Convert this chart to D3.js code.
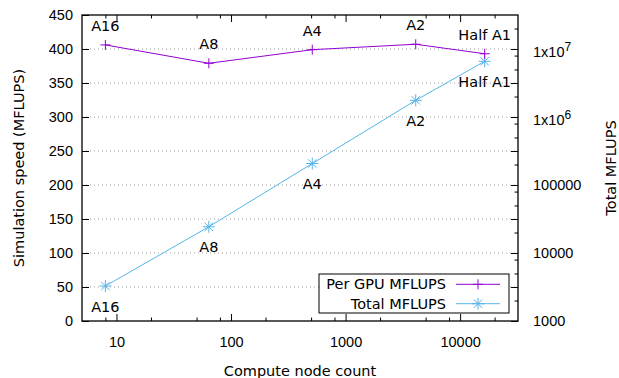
<!DOCTYPE html>
<html>
<head>
<meta charset="utf-8">
<script src="https://cdn.jsdelivr.net/npm/d3@7"></script>
<style>
  body { margin: 0; background: #fff; }
  svg { font-family: "DejaVu Sans", sans-serif; font-size: 14.5px; }
  .tick text { font-size: 14.5px; fill: #000; }
  .tick line { stroke: #000; stroke-width: 1; }
</style>
</head>
<body>
<svg id="chart" width="619" height="378"></svg>
<script>
// node counts and the labels printed next to each point
const nodeCounts = [8, 64, 512, 4096, 16384];
const pointLabels = ["A16", "A8", "A4", "A2", "Half A1"];
// per GPU speed (left axis) and total speed (right log axis)
const perGpuMflups = [406, 379, 399, 407, 393];
const totalMflups = [3270, 24300, 207000, 1760000, 6600000];

const leftTicks = [0, 50, 100, 150, 200, 250, 300, 350, 400, 450];
const rightTicks = [1000, 10000, 100000, 1e6, 1e7];
const xTicks = [10, 100, 1000, 10000];

const svg = d3.select("#chart");
const L = 82, R = 518, T = 15, B = 321;

const x = d3.scaleLog().domain([5, 32000]).range([L, R]);
const y = d3.scaleLinear().domain([0, 450]).range([B, T]);
const y2 = d3.scaleLog().domain([1000, Math.pow(10, 7.5)]).range([B, T]);

// minor ticks at 2, 5, 8 of each decade
function minors(lo, hi) {
    const out = [];
    for (let p = Math.floor(Math.log10(lo)); p <= Math.ceil(Math.log10(hi)); p++) {
        [2, 5, 8].forEach(m => {
            const v = m * Math.pow(10, p);
            if (v > lo && v < hi) out.push(v);
        });
    }
    return out;
}

// grid
svg.append("g")
    .selectAll("line")
    .data(leftTicks.filter(v => v > 0 && v < 450))
    .enter()
    .append("line")
    .attr("x1", L).attr("x2", R)
    .attr("y1", d => y(d)).attr("y2", d => y(d))
    .attr("stroke", "#a0a0a0")
    .attr("stroke-width", 1)
    .attr("stroke-dasharray", "1,3");

// axes
function cleanup(g) { g.select(".domain").remove(); }

svg.append("g")
    .attr("transform", `translate(${L},0)`)
    .call(d3.axisLeft(y).tickValues(leftTicks).tickSize(-7).tickPadding(9))
    .call(cleanup);

// mirrored left ticks on the right border
svg.append("g")
    .attr("transform", `translate(${R},0)`)
    .call(d3.axisRight(y).tickValues(leftTicks.slice(1, -1)).tickSize(-7).tickFormat(""))
    .call(cleanup);

const yr = svg.append("g")
    .attr("transform", `translate(${R},0)`)
    .call(d3.axisRight(y2).tickValues(rightTicks).tickSize(-7).tickPadding(15)
        .tickFormat(d => d < 1e6 ? String(d) : ""))
    .call(cleanup);

yr.selectAll(".tick text").each(function(d) {
    if (d < 1e6) return;
    const t = d3.select(this);
    t.attr("dy", "0.5em");
    t.append("tspan").text("1x10");
    t.append("tspan").attr("dy", "-0.45em").attr("font-size", "12px")
        .text(String(Math.round(Math.log10(d))));
});

svg.append("g")
    .attr("transform", `translate(${R},0)`)
    .call(d3.axisRight(y2).tickValues(minors(1000, Math.pow(10, 7.5))).tickSize(-3.5).tickFormat(""))
    .call(cleanup);

svg.append("g")
    .attr("transform", `translate(0,${B})`)
    .call(d3.axisBottom(x).tickValues(xTicks).tickSize(-7).tickPadding(16).tickFormat(d3.format("d")))
    .call(cleanup);

svg.append("g")
    .attr("transform", `translate(0,${B})`)
    .call(d3.axisBottom(x).tickValues(minors(5, 32000)).tickSize(-3.5).tickFormat(""))
    .call(cleanup);

svg.append("g")
    .attr("transform", `translate(0,${T})`)
    .call(d3.axisTop(x).tickValues(xTicks).tickSize(-7).tickFormat(""))
    .call(cleanup);

svg.append("g")
    .attr("transform", `translate(0,${T})`)
    .call(d3.axisTop(x).tickValues(minors(5, 32000)).tickSize(-3.5).tickFormat(""))
    .call(cleanup);

// border
svg.append("rect")
    .attr("x", L).attr("y", T)
    .attr("width", R - L).attr("height", B - T)
    .attr("fill", "none")
    .attr("stroke", "#000")
    .attr("stroke-width", 1.3);

// axis titles
svg.append("text")
    .attr("transform", `translate(19,${(T + B) / 2}) rotate(-90)`)
    .attr("text-anchor", "middle")
    .attr("dominant-baseline", "central")
    .text("Simulation speed (MFLUPS)");

svg.append("text")
    .attr("transform", `translate(611,${(T + B) / 2}) rotate(-90)`)
    .attr("text-anchor", "middle")
    .attr("dominant-baseline", "central")
    .text("Total MFLUPS");

svg.append("text")
    .attr("x", (L + R) / 2).attr("y", 376)
    .attr("text-anchor", "middle")
    .text("Compute node count");

// series
const purple = "#9400d3";
const blue = "#56b4e9";

const perGpu = nodeCounts.map((n, i) => ({ n, v: perGpuMflups[i], label: pointLabels[i] }));
const total = nodeCounts.map((n, i) => ({ n, v: totalMflups[i], label: pointLabels[i] }));

const plus = s => `M${-s},0H${s}M0,${-s}V${s}`;
const star = s => `${plus(s)}M${-s * 0.7},${-s * 0.7}L${s * 0.7},${s * 0.7}M${-s * 0.7},${s * 0.7}L${s * 0.7},${-s * 0.7}`;

svg.append("path")
    .datum(total)
    .attr("fill", "none")
    .attr("stroke", blue)
    .attr("stroke-width", 1)
    .attr("d", d3.line().x(d => x(d.n)).y(d => y2(d.v)));

svg.append("g")
    .selectAll("path")
    .data(total)
    .enter()
    .append("path")
    .attr("transform", d => `translate(${x(d.n)},${y2(d.v)})`)
    .attr("d", star(6))
    .attr("stroke", blue)
    .attr("stroke-width", 1)
    .attr("fill", "none");

svg.append("path")
    .datum(perGpu)
    .attr("fill", "none")
    .attr("stroke", purple)
    .attr("stroke-width", 1)
    .attr("d", d3.line().x(d => x(d.n)).y(d => y(d.v)));

svg.append("g")
    .selectAll("path")
    .data(perGpu)
    .enter()
    .append("path")
    .attr("transform", d => `translate(${x(d.n)},${y(d.v)})`)
    .attr("d", plus(5))
    .attr("stroke", purple)
    .attr("stroke-width", 1)
    .attr("fill", "none");

// point labels
svg.append("g")
    .selectAll("text")
    .data(perGpu)
    .enter()
    .append("text")
    .attr("x", d => x(d.n))
    .attr("y", d => y(d.v) - 14)
    .attr("text-anchor", "middle")
    .text(d => d.label);

svg.append("g")
    .selectAll("text")
    .data(total)
    .enter()
    .append("text")
    .attr("x", d => x(d.n))
    .attr("y", d => y2(d.v) + 25.5)
    .attr("text-anchor", "middle")
    .text(d => d.label);

// legend
const key = svg.append("g");
key.append("rect")
    .attr("x", 319).attr("y", 274)
    .attr("width", 190).attr("height", 39)
    .attr("fill", "#fff")
    .attr("stroke", "#000")
    .attr("stroke-width", 1);

const keyRows = [
    { name: "Per GPU MFLUPS", color: purple, shape: plus(5) },
    { name: "Total MFLUPS", color: blue, shape: star(6) }
];
keyRows.forEach((k, i) => {
    const cy = 284.3 + i * 19.4;
    key.append("text")
        .attr("x", 446).attr("y", cy)
        .attr("text-anchor", "end")
        .attr("dominant-baseline", "central")
        .text(k.name);
    key.append("line")
        .attr("x1", 456).attr("x2", 500)
        .attr("y1", cy).attr("y2", cy)
        .attr("stroke", k.color)
        .attr("stroke-width", 1);
    key.append("path")
        .attr("transform", `translate(478,${cy})`)
        .attr("d", k.shape)
        .attr("stroke", k.color)
        .attr("fill", "none");
});
</script>
</body>
</html>
